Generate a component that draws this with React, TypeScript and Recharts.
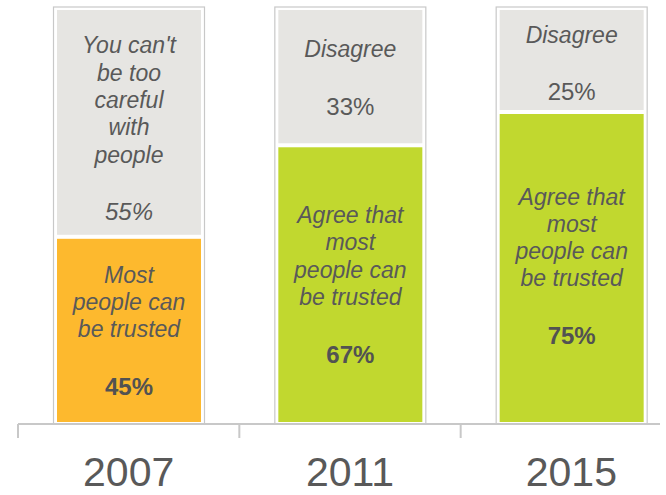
import React from "react";
import { BarChart, Bar, XAxis, YAxis, Cell } from "recharts";

// ── data ──────────────────────────────────────────────────────────────────────

const years = ["2007", "2011", "2015"];
const trusted = [45, 67, 75];
const careful = [55, 33, 25];

const trustedText = [
  ["Most", "people can", "be trusted"],
  ["Agree that", "most", "people can", "be trusted"],
  ["Agree that", "most", "people can", "be trusted"],
];
const carefulText = [
  ["You can't", "be too", "careful", "with", "people"],
  ["Disagree"],
  ["Disagree"],
];
const trustedColors = ["#fdb92e", "#c1d82f", "#c1d82f"];
const carefulItalicPct = [true, false, false];

const data = years.map((year, i) => ({
  year,
  trusted: trusted[i],
  careful: careful[i],
}));

// ── styles ────────────────────────────────────────────────────────────────────

const FONT = "'Liberation Sans', Arial, sans-serif";
const TEXT = "#595959";
const GREY = "#e6e5e2";
const FRAME = "#c8c8c8";
const LINE_H = 27.3;
const PCT_GAP = 57;
// small vertical nudges of the text blocks, as in the original slide
const carefulNudge = [6, 1, 3];
const trustedNudge = [0, 0, -2];

type SegProps = {
  x?: number;
  y?: number;
  width?: number;
  height?: number;
  fill?: string;
  index?: number;
  kind: "trusted" | "careful";
};

function Segment({ x = 0, y = 0, width = 0, height = 0, fill, index = 0, kind }: SegProps) {
  const isTrusted = kind === "trusted";
  const lines = isTrusted ? trustedText[index] : carefulText[index];
  const pct = isTrusted ? trusted[index] : careful[index];
  const nudge = isTrusted ? trustedNudge[index] : carefulNudge[index];
  const italicPct = !isTrusted && carefulItalicPct[index];
  const cx = x + width / 2;
  const cy = y + height / 2 + nudge;
  const blockH = (lines.length - 1) * LINE_H + PCT_GAP;
  const first = cy - blockH / 2;
  return (
    <g>
      <rect x={x + 2} y={y + 2} width={width - 4} height={height - 4} fill={fill} />
      {lines.map((t, i) => (
        <text
          key={i}
          x={cx}
          y={first + i * LINE_H}
          textAnchor="middle"
          dominantBaseline="central"
          fontFamily={FONT}
          fontSize={23}
          fontStyle="italic"
          fill={TEXT}
        >
          {t}
        </text>
      ))}
      <text
        x={cx}
        y={first + blockH}
        textAnchor="middle"
        dominantBaseline="central"
        fontFamily={FONT}
        fontSize={24}
        fontWeight={isTrusted ? 700 : 400}
        fontStyle={italicPct ? "italic" : "normal"}
        fill={isTrusted ? "#525252" : TEXT}
      >
        {pct}%
      </text>
    </g>
  );
}

function Frame(props: any) {
  const { x = 0, y = 0, width = 0, height = 0 } = props;
  return (
    <rect
      x={x - 1.5}
      y={y - 1}
      width={width + 3}
      height={height + 1}
      fill="#ffffff"
      stroke={FRAME}
      strokeWidth={1.2}
    />
  );
}

function YearTick(props: any) {
  const { x, y, payload } = props;
  const half = payload?.offset ?? 110.7;
  return (
    <g>
      <line x1={x - half} y1={y} x2={x - half} y2={y + 14} stroke={FRAME} strokeWidth={2} />
      <text
        x={x}
        y={y + 62}
        textAnchor="middle"
        fontFamily={FONT}
        fontSize={41}
        fill={TEXT}
      >
        {payload.value}
      </text>
    </g>
  );
}

// ── chart ─────────────────────────────────────────────────────────────────────

export default function App() {
  return (
    <div
      style={{
        position: "absolute",
        left: 0,
        top: 0,
        width: 660,
        height: 495,
        overflow: "hidden",
        background: "#ffffff",
      }}
    >
      <BarChart
        width={682}
        height={495}
        data={data}
        margin={{ top: 8, right: 0, bottom: 0, left: 18 }}
        barSize={148}
      >
        <XAxis
          dataKey="year"
          height={71}
          axisLine={{ stroke: FRAME, strokeWidth: 2 }}
          tickLine={false}
          tickSize={0}
          tickMargin={0}
          tick={<YearTick />}
          interval={0}
        />
        <YAxis hide domain={[0, 100]} />
        <Bar
          dataKey="trusted"
          stackId="a"
          isAnimationActive={false}
          background={(p: any) => <Frame {...p} />}
          shape={(p: any) => <Segment {...p} kind="trusted" />}
        >
          {data.map((d, i) => (
            <Cell key={d.year} fill={trustedColors[i]} />
          ))}
        </Bar>
        <Bar
          dataKey="careful"
          stackId="a"
          fill={GREY}
          isAnimationActive={false}
          shape={(p: any) => <Segment {...p} kind="careful" />}
        />
      </BarChart>
    </div>
  );
}
